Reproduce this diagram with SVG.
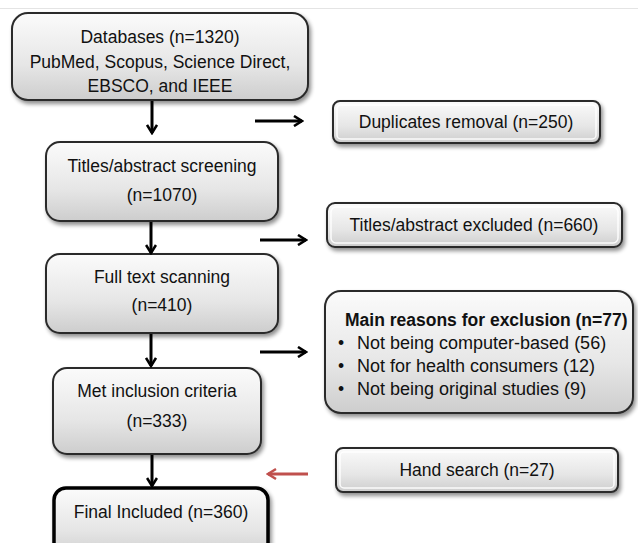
<svg xmlns="http://www.w3.org/2000/svg" width="638" height="543" viewBox="0 0 638 543">
<defs>
<linearGradient id="g" x1="0" y1="0" x2="0" y2="1">
<stop offset="0" stop-color="#fbfbfb"/>
<stop offset="0.6" stop-color="#e6e6e6"/>
<stop offset="1" stop-color="#cdcdcd"/>
</linearGradient>
<filter id="sh" x="-10%" y="-10%" width="125%" height="130%">
<feGaussianBlur in="SourceAlpha" stdDeviation="2"/>
<feOffset dx="2" dy="3" result="b"/>
<feComponentTransfer><feFuncA type="linear" slope="0.45"/></feComponentTransfer>
<feMerge><feMergeNode/><feMergeNode in="SourceGraphic"/></feMerge>
</filter>
<marker id="ah" viewBox="0 0 12 12" refX="10" refY="6" markerWidth="12" markerHeight="12" markerUnits="userSpaceOnUse" orient="auto">
<path d="M2,1 L10,6 L2,11" fill="none" stroke="#000" stroke-width="2.6"/>
</marker>
<marker id="ahr" viewBox="0 0 12 12" refX="10" refY="6" markerWidth="12" markerHeight="12" markerUnits="userSpaceOnUse" orient="auto">
<path d="M2,1 L10,6 L2,11" fill="none" stroke="#c0504d" stroke-width="2.4"/>
</marker>
</defs>
<style>
.box{fill:url(#g);stroke:#2a2a2a;stroke-width:2;filter:url(#sh)}
.inner{fill:none;stroke:#ffffff;stroke-width:1.5;opacity:0.9}
.thick{fill:url(#g);stroke:#000;stroke-width:3.5;filter:url(#sh)}
text{font-family:"Liberation Sans",Arial,sans-serif;font-size:17.5px;fill:#111;text-anchor:middle}
.b{font-weight:bold}
.l{text-anchor:start}
.bl{font-size:18px}
.c{stroke:#000;stroke-width:3;fill:none;marker-end:url(#ah)}
.cr{stroke:#c0504d;stroke-width:3;fill:none;marker-end:url(#ahr)}
</style>
<rect width="638" height="543" fill="#fff"/>
<line x1="0" y1="8.5" x2="638" y2="8.5" stroke="#e4e4e4" stroke-width="1"/>

<g id="n1">
<rect class="box" x="12" y="13" width="296" height="87" rx="16"/>
<text x="160" y="43">Databases (n=1320)</text>
<text x="160" y="68">PubMed, Scopus, Science Direct,</text>
<text x="160" y="92">EBSCO, and IEEE</text>
</g>
<g id="n2">
<rect class="box" x="333" y="101" width="267" height="42" rx="7"/>
<rect class="inner" x="337" y="105" width="259" height="34" rx="4"/>
<text x="466" y="128">Duplicates removal (n=250)</text>
</g>
<g id="n3">
<rect class="box" x="46" y="142" width="232" height="79" rx="14"/>
<text x="162" y="172">Titles/abstract screening</text>
<text x="162" y="201">(n=1070)</text>
</g>
<g id="n4">
<rect class="box" x="327" y="203" width="295" height="44" rx="8"/>
<rect class="inner" x="331" y="207" width="287" height="36" rx="5"/>
<text x="474" y="231">Titles/abstract excluded (n=660)</text>
</g>
<g id="n5">
<rect class="box" x="46" y="254" width="232" height="79" rx="14"/>
<text x="162" y="283">Full text scanning</text>
<text x="162" y="311">(n=410)</text>
</g>
<g id="n6">
<rect class="box" x="325" y="291" width="308" height="122" rx="16"/>
<text class="b l" x="345" y="326">Main reasons for exclusion (n=77)</text>
<text class="l" x="338" y="349">•</text>
<text class="l bl" x="357" y="349">Not being computer-based (56)</text>
<text class="l" x="338" y="372">•</text>
<text class="l bl" x="357" y="372">Not for health consumers (12)</text>
<text class="l" x="338" y="395">•</text>
<text class="l bl" x="357" y="395">Not being original studies (9)</text>
</g>
<g id="n7">
<rect class="box" x="53" y="368" width="208" height="86" rx="14"/>
<text x="157" y="397">Met inclusion criteria</text>
<text x="157" y="427">(n=333)</text>
</g>
<g id="n8">
<rect class="box" x="336" y="448" width="282" height="44" rx="7"/>
<rect class="inner" x="340" y="452" width="274" height="36" rx="4"/>
<text x="477" y="476">Hand search (n=27)</text>
</g>
<g id="n9">
<rect class="thick" x="54" y="488" width="214" height="70" rx="12"/>
<text x="161" y="518">Final Included (n=360)</text>
</g>

<g id="connectors">
<line class="c" x1="152" y1="101" x2="152" y2="133"/>
<line class="c" x1="255" y1="121" x2="302" y2="121"/>
<line class="c" x1="151" y1="222" x2="151" y2="253"/>
<line class="c" x1="260" y1="240" x2="306" y2="240"/>
<line class="c" x1="151" y1="334" x2="151" y2="366"/>
<line class="c" x1="260" y1="352" x2="306" y2="352"/>
<line class="c" x1="152" y1="455" x2="152" y2="486"/>
<line class="cr" x1="308" y1="474" x2="268" y2="474"/>
</g>
</svg>
